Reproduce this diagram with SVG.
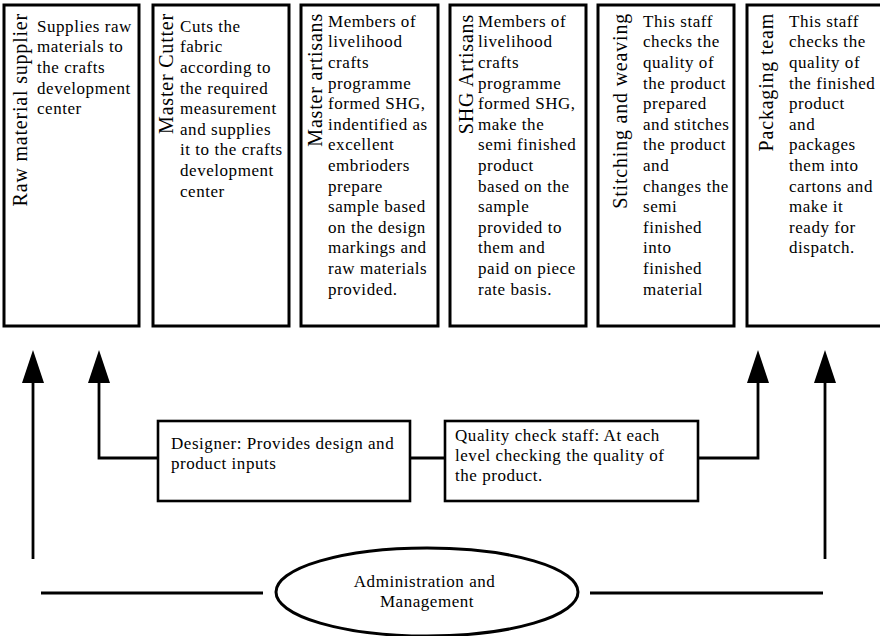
<svg xmlns="http://www.w3.org/2000/svg" width="880" height="636" viewBox="0 0 880 636">
  <style>
    .box { fill: #fff; stroke: #000; stroke-width: 3; }
    .mid { fill: #fff; stroke: #000; stroke-width: 2.6; }
    .title { font-family: "Liberation Serif", "Times New Roman", serif; font-size: 20px; letter-spacing: 0.8px; fill: #000; text-anchor: end; }
    .body { font-family: "Liberation Serif", "Times New Roman", serif; font-size: 17px; letter-spacing: 0.55px; fill: #000; }
    .center { text-anchor: middle; }
    .wire { fill: none; stroke: #000; stroke-width: 2.8; }
  </style>
  <defs>
    <marker id="head" viewBox="0 0 33 22" refX="0" refY="11" markerWidth="33" markerHeight="22" markerUnits="userSpaceOnUse" orient="auto">
      <path d="M0,0 L33,11 L0,22 z" fill="#000"/>
    </marker>
  </defs>

  <rect width="880" height="636" fill="#fff"/>

  <!-- stage boxes, left to right -->
  <g id="raw-material-supplier">
    <rect class="box" x="4" y="5" width="135" height="321"/>
    <text class="title" transform="translate(27,13) rotate(-90)">Raw material supplier</text>
    <text class="body">
      <tspan x="37" y="31.7">Supplies raw</tspan>
      <tspan x="37" dy="20.6">materials to</tspan>
      <tspan x="37" dy="20.6">the crafts</tspan>
      <tspan x="37" dy="20.6">development</tspan>
      <tspan x="37" dy="20.6">center</tspan>
    </text>
  </g>

  <g id="master-cutter">
    <rect class="box" x="153" y="5" width="136" height="321"/>
    <text class="title" transform="translate(172.5,13) rotate(-90)">Master Cutter</text>
    <text class="body">
      <tspan x="180" y="31.7">Cuts the</tspan>
      <tspan x="180" dy="20.6">fabric</tspan>
      <tspan x="180" dy="20.6">according to</tspan>
      <tspan x="180" dy="20.6">the required</tspan>
      <tspan x="180" dy="20.6">measurement</tspan>
      <tspan x="180" dy="20.6">and supplies</tspan>
      <tspan x="180" dy="20.6">it to the crafts</tspan>
      <tspan x="180" dy="20.6">development</tspan>
      <tspan x="180" dy="20.6">center</tspan>
    </text>
  </g>

  <g id="master-artisans">
    <rect class="box" x="301" y="5" width="137" height="321"/>
    <text class="title" transform="translate(321.7,13) rotate(-90)">Master artisans</text>
    <text class="body">
      <tspan x="328" y="26.7">Members of</tspan>
      <tspan x="328" dy="20.6">livelihood</tspan>
      <tspan x="328" dy="20.6">crafts</tspan>
      <tspan x="328" dy="20.6">programme</tspan>
      <tspan x="328" dy="20.6">formed SHG,</tspan>
      <tspan x="328" dy="20.6">indentified as</tspan>
      <tspan x="328" dy="20.6">excellent</tspan>
      <tspan x="328" dy="20.6">embrioders</tspan>
      <tspan x="328" dy="20.6">prepare</tspan>
      <tspan x="328" dy="20.6">sample based</tspan>
      <tspan x="328" dy="20.6">on the design</tspan>
      <tspan x="328" dy="20.6">markings and</tspan>
      <tspan x="328" dy="20.6">raw materials</tspan>
      <tspan x="328" dy="20.6">provided.</tspan>
    </text>
  </g>

  <g id="shg-artisans">
    <rect class="box" x="450" y="5" width="136" height="321"/>
    <text class="title" transform="translate(472.7,14) rotate(-90)">SHG Artisans</text>
    <text class="body">
      <tspan x="478" y="26.7">Members of</tspan>
      <tspan x="478" dy="20.6">livelihood</tspan>
      <tspan x="478" dy="20.6">crafts</tspan>
      <tspan x="478" dy="20.6">programme</tspan>
      <tspan x="478" dy="20.6">formed SHG,</tspan>
      <tspan x="478" dy="20.6">make the</tspan>
      <tspan x="478" dy="20.6">semi finished</tspan>
      <tspan x="478" dy="20.6">product</tspan>
      <tspan x="478" dy="20.6">based on the</tspan>
      <tspan x="478" dy="20.6">sample</tspan>
      <tspan x="478" dy="20.6">provided to</tspan>
      <tspan x="478" dy="20.6">them and</tspan>
      <tspan x="478" dy="20.6">paid on piece</tspan>
      <tspan x="478" dy="20.6">rate basis.</tspan>
    </text>
  </g>

  <g id="stitching-and-weaving">
    <rect class="box" x="598" y="5" width="136" height="321"/>
    <text class="title" transform="translate(626.7,13) rotate(-90)">Stitching and weaving</text>
    <text class="body">
      <tspan x="643" y="26.7">This staff</tspan>
      <tspan x="643" dy="20.6">checks the</tspan>
      <tspan x="643" dy="20.6">quality of</tspan>
      <tspan x="643" dy="20.6">the product</tspan>
      <tspan x="643" dy="20.6">prepared</tspan>
      <tspan x="643" dy="20.6">and stitches</tspan>
      <tspan x="643" dy="20.6">the product</tspan>
      <tspan x="643" dy="20.6">and</tspan>
      <tspan x="643" dy="20.6">changes the</tspan>
      <tspan x="643" dy="20.6">semi</tspan>
      <tspan x="643" dy="20.6">finished</tspan>
      <tspan x="643" dy="20.6">into</tspan>
      <tspan x="643" dy="20.6">finished</tspan>
      <tspan x="643" dy="20.6">material</tspan>
    </text>
  </g>

  <g id="packaging-team">
    <rect class="box" x="747" y="5" width="140" height="321"/>
    <text class="title" transform="translate(772.5,13) rotate(-90)">Packaging team</text>
    <text class="body">
      <tspan x="789" y="26.7">This staff</tspan>
      <tspan x="789" dy="20.6">checks the</tspan>
      <tspan x="789" dy="20.6">quality of</tspan>
      <tspan x="789" dy="20.6">the finished</tspan>
      <tspan x="789" dy="20.6">product</tspan>
      <tspan x="789" dy="20.6">and</tspan>
      <tspan x="789" dy="20.6">packages</tspan>
      <tspan x="789" dy="20.6">them into</tspan>
      <tspan x="789" dy="20.6">cartons and</tspan>
      <tspan x="789" dy="20.6">make it</tspan>
      <tspan x="789" dy="20.6">ready for</tspan>
      <tspan x="789" dy="20.6">dispatch.</tspan>
    </text>
  </g>

  <!-- connectors -->
  <g id="connectors">
    <path class="wire" d="M33,559 V383" marker-end="url(#head)"/>
    <path class="wire" d="M158,458 H99 V383" marker-end="url(#head)"/>
    <path class="wire" d="M410,458 H445"/>
    <path class="wire" d="M698,458 H758 V383" marker-end="url(#head)"/>
    <path class="wire" d="M825,559 V383" marker-end="url(#head)"/>
    <path class="wire" d="M41,593 H263"/>
    <path class="wire" d="M590,593 H823"/>
  </g>

  <!-- support roles -->
  <g id="designer">
    <rect class="mid" x="158" y="421" width="252" height="80"/>
    <text class="body">
      <tspan x="171" y="449">Designer: Provides design and</tspan>
      <tspan x="171" dy="20.3">product inputs</tspan>
    </text>
  </g>

  <g id="quality-check-staff">
    <rect class="mid" x="445" y="421" width="253" height="80"/>
    <text class="body">
      <tspan x="455" y="441">Quality check staff: At each</tspan>
      <tspan x="455" dy="20">level checking the quality of</tspan>
      <tspan x="455" dy="20">the product.</tspan>
    </text>
  </g>

  <g id="administration">
    <ellipse cx="427" cy="592" rx="151" ry="44" fill="#fff" stroke="#000" stroke-width="3"/>
    <text class="body center">
      <tspan x="427" y="587">Administration and</tspan>
      <tspan x="427" dy="19.5">Management</tspan>
    </text>
  </g>
</svg>
